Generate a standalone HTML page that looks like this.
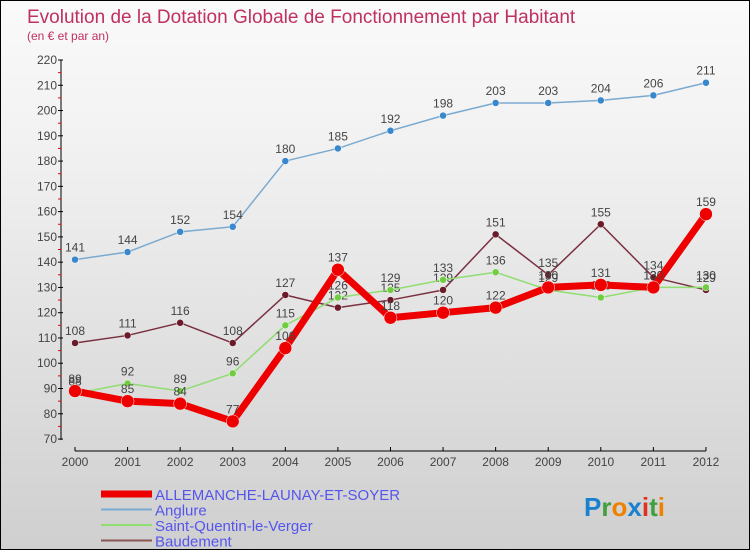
<!DOCTYPE html>
<html><head><meta charset="utf-8"><style>
body{margin:0}
#c{width:748px;height:548px;border:1px solid #000;background:linear-gradient(#fafafa,#f0f0f0 30%,#cfcfcf);position:relative;overflow:hidden;font-family:"Liberation Sans",sans-serif}
</style></head><body>
<div id="c">
<svg id="s" width="748" height="548" xmlns="http://www.w3.org/2000/svg" style="position:absolute;left:0;top:0"></svg>
</div>
<script>
const years=["2000","2001","2002","2003","2004","2005","2006","2007","2008","2009","2010","2011","2012"];
const allemanche=[89,85,84,77,106,137,118,120,122,130,131,130,159];
const anglure=[141,144,152,154,180,185,192,198,203,203,204,206,211];
const stquentin=[88,92,89,96,115,126,129,133,136,129,126,130,130];
const baudement=[108,111,116,108,127,122,125,129,151,135,155,134,129];
const yTicks=[70,80,90,100,110,120,130,140,150,160,170,180,190,200,210,220];
const NS="http://www.w3.org/2000/svg";
const s=document.getElementById('s');
function X(i){return 74+i*52.58;}
function Y(v){return 59+(220-v)*2.527;}
function el(t,a,p){const e=document.createElementNS(NS,t);for(const k in a)e.setAttribute(k,a[k]);(p||s).appendChild(e);return e;}
function tx(x,y,str,a){const e=el('text',Object.assign({x:x,y:y,'font-size':12,fill:'#444'},a));e.textContent=str;return e;}
let t=tx(26,22,"Evolution de la Dotation Globale de Fonctionnement par Habitant",{'font-size':19,fill:'#c03060'});

t=tx(26,39,"(en € et par an)",{'font-size':12,fill:'#c03060'});

// y axis
let ax=el('line',{x1:60,y1:59,x2:60,y2:439,stroke:'#000','stroke-width':1});

yTicks.forEach(v=>{el('line',{x1:57,y1:Y(v),x2:62,y2:Y(v),stroke:'#000'});
 if(v<220)el('line',{x1:57,y1:Y(v+5),x2:60,y2:Y(v+5),stroke:'#e00'});
 const l=tx(56,Y(v)+4,v,{'text-anchor':'end','font-size':12});
 });
ax=el('line',{x1:X(0),y1:450,x2:X(12),y2:450,stroke:'#000','stroke-width':1});

years.forEach((y,i)=>{el('line',{x1:X(i),y1:446,x2:X(i),y2:450,stroke:'#000'});
 const l=tx(X(i),465,y,{'text-anchor':'middle','font-size':12});
 });
function series(d,color,w,mark,r,name){
 const g=el('g',{});
 el('polyline',{points:d.map((v,i)=>X(i)+','+Y(v)).join(' '),fill:'none',stroke:color,'stroke-width':w,'stroke-linejoin':'round'},g);
 d.forEach((v,i)=>{const c=el('circle',{cx:X(i),cy:Y(v),r:r,fill:mark,stroke:'#fff','stroke-width':0.5},g);
  
  const l=tx(X(i),Y(v)-8,v,{'text-anchor':'middle','font-size':12,fill:'#444'},g);});
}
series(anglure,'#7aaad0',1.5,'#3a88cc',3.5,'anglure');
series(baudement,'#7a3040',1.5,'#6a1a28',3.5,'baudement');
series(stquentin,'#90dd70',1.5,'#70cc40',3.5,'saint-quentin');
series(allemanche,'#ee0000',7,'#ee0000',6.5,'allemanche');
// legend
const leg=[['ALLEMANCHE-LAUNAY-ET-SOYER','#ee0000',7],['Anglure','#7aaad0',2],['Saint-Quentin-le-Verger','#90dd70',2],['Baudement','#8a5555',2]];
leg.forEach((e,i)=>{const y=493+i*15.5;
 const g=el('g',{});
 el('line',{x1:100,y1:y,x2:151,y2:y,stroke:e[1],'stroke-width':e[2]},g);
 tx(154,y+6,e[0],{'font-size':15,fill:'#5555ee'},g);});
const lg=tx(583,515,'',{'font-size':26,'font-weight':'bold'});

[['P','#1a80d0'],['r','#40a040'],['o','#f08000'],['x','#1a80d0'],['i','#e03020'],['t','#40a040'],['i','#f08000']].forEach(c=>{const ts=el('tspan',{fill:c[1]},lg);ts.textContent=c[0];});
</script>
</body></html>
